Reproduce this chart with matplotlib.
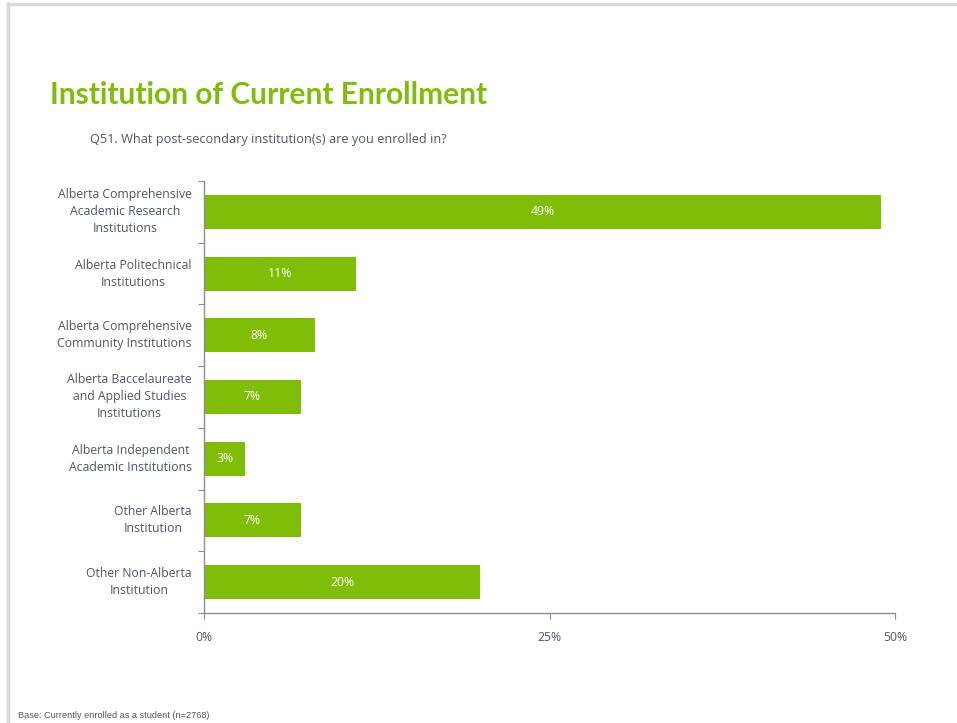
import matplotlib.pyplot as plt
from matplotlib.lines import Line2D
import numpy as np

categories = [
    "Alberta Comprehensive\nAcademic Research\nInstitutions",
    "Alberta Politechnical\nInstitutions",
    "Alberta Comprehensive\nCommunity Institutions",
    "Alberta Baccelaureate\nand Applied Studies\nInstitutions",
    "Alberta Independent\nAcademic Institutions",
    "Other Alberta\nInstitution",
    "Other Non-Alberta\nInstitution",
]
values = [49, 11, 8, 7, 3, 7, 20]
xticks = [0, 25, 50]

green = "#7fbd08"
grey_text = "#4d5863"
axis_col = "#8c8c8c"
font = ["Open Sans", "DejaVu Sans"]

fig = plt.figure(figsize=(9.57, 7.23), dpi=100)
ax = fig.add_axes([0.2132, 0.1521, 0.7220, 0.5976])

y = np.arange(len(categories))
ax.barh(y, values, height=0.55, color=green)
for yi, v in zip(y, values):
    ax.text(v / 2, yi, f"{v}%", ha="center", va="center", color="white",
            fontsize=8.8, family=font)

ax.set_xlim(0, 50)
ax.set_ylim(len(categories) - 0.5, -0.5)
ax.set_xticks(xticks)
ax.set_xticklabels([f"{t}%" for t in xticks], family=font, fontsize=8.8, color=grey_text)
ax.tick_params(axis="x", length=4, color=axis_col, pad=9)

# ticks between categories, labels at centres
ax.set_yticks(np.arange(-0.5, len(categories), 1.0))
ax.set_yticklabels([])
ax.tick_params(axis="y", length=4, color=axis_col)
for yi, lab in zip(y, categories):
    ax.text(-0.0175, yi, lab, transform=ax.get_yaxis_transform(), ha="right", va="center",
            multialignment="center", fontsize=8.8, color=grey_text, family=font,
            linespacing=1.4)

for s in ["top", "right"]:
    ax.spines[s].set_visible(False)
for s in ["left", "bottom"]:
    ax.spines[s].set_color(axis_col)
    ax.spines[s].set_linewidth(1)

fig.text(50 / 957, 1 - 95 / 723, "Institution of Current Enrollment", fontsize=21.5,
         fontweight="bold", color=green, family=["Lato", "DejaVu Sans"], va="center")
fig.text(90 / 957, 1 - 140 / 723, "Q51. What post-secondary institution(s) are you enrolled in?",
         fontsize=9.2, color=grey_text, family=font, va="center")
fig.text(18 / 957, 1 - 716 / 723, "Base: Currently enrolled as a student (n=2768)",
         fontsize=6.6, color="#555555", family=["Liberation Sans", "DejaVu Sans"], va="center")

# slide frame
fig.add_artist(Line2D([8 / 957, 1], [1 - 4 / 723] * 2, color="#d9d9d9", lw=2.5))
fig.add_artist(Line2D([8 / 957] * 2, [0, 1 - 4 / 723], color="#d9d9d9", lw=2.5))

fig.savefig("out.png", dpi=100)
